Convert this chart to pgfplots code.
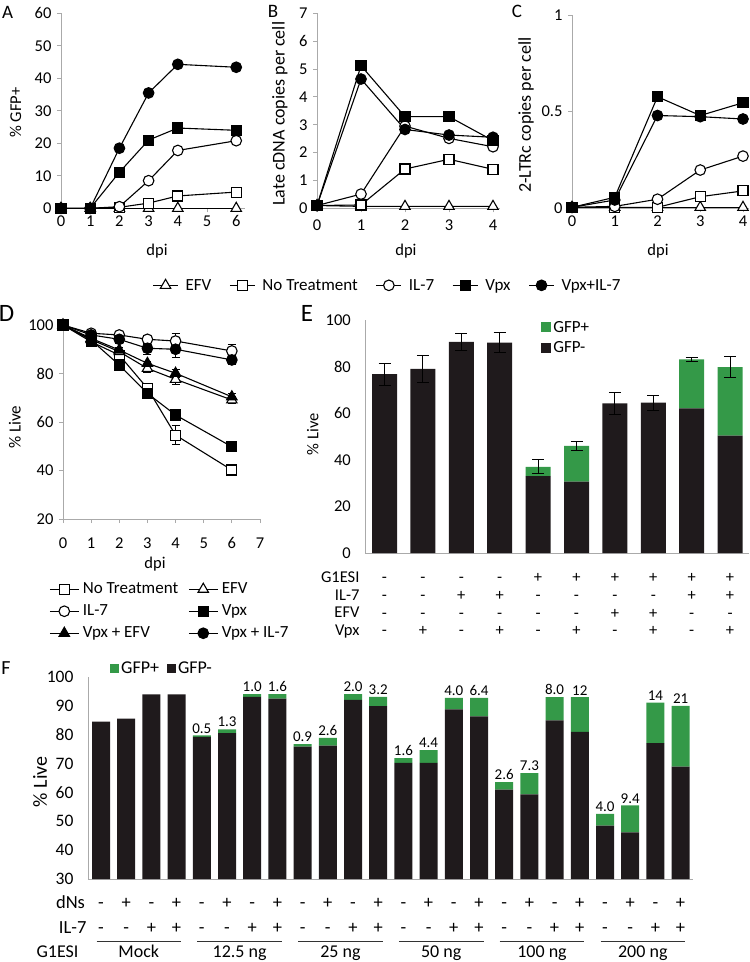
\documentclass[border=0pt]{standalone}
\usepackage{fontspec}
\setmainfont{Carlito}
\usepackage{pgfplots}
\pgfplotsset{compat=1.18}
\definecolor{gfpgreen}{RGB}{52,153,72}
\definecolor{barblack}{RGB}{31,26,28}
\definecolor{axgray}{RGB}{170,170,170}
\newcommand\fA{\fontsize{16.5}{19}\selectfont}
\newcommand\fL{\fontsize{17}{20}\selectfont}
\pgfplotsset{
 base/.style={
  scale only axis, enlargelimits=false, clip=false, anchor=south west,
  axis x line*=bottom, axis y line*=left,
  axis line style={draw=axgray, line width=0.8pt},
  every tick/.style={draw=axgray, line width=0.8pt},
  tick align=outside, major tick length=4pt,
  /pgf/number format/assume math mode=true,
  tick label style={font=\fA},
  label style={font=\fA},
  yticklabel style={xshift=-2pt},
 },
 ser/.style={black, line width=1.1pt, mark options={solid, line width=1pt, draw=black}},
 efv/.style={ser, mark=triangle*, mark size=6pt, mark options={fill=white}},
 nt/.style={ser, mark=square*, mark size=5pt, mark options={fill=white}},
 il7/.style={ser, mark=*, mark size=5.3pt, mark options={fill=white}},
 vpx/.style={ser, mark=square*, mark size=5pt, mark options={fill=black}},
 vpxil7/.style={ser, mark=*, mark size=5.3pt, mark options={fill=black}},
 vpxefv/.style={ser, mark=triangle*, mark size=6pt, mark options={fill=black}},
 ebar/.style={error bars/.cd, y dir=both, y explicit,
   error bar style={draw=black, line width=0.8pt},
   error mark options={rotate=90, mark size=4pt, draw=black, line width=0.8pt}},
 sqleg/.style={legend image code/.code={\fill[##1,draw=none] (0pt,-5pt) rectangle (10pt,5pt);}},
}
\begin{document}
\begin{tikzpicture}
\useasboundingbox (0,0) rectangle (750pt,-962pt);
% panel letters
\node[font=\fontsize{19}{22}\selectfont] at (7.5pt,-12.5pt) {A};
\node[font=\fontsize{19}{22}\selectfont] at (273pt,-11.5pt) {B};
\node[font=\fontsize{19}{22}\selectfont] at (517pt,-11pt) {C};
\node[font=\fontsize{25}{28}\selectfont] at (6.5pt,-313.5pt) {D};
\node[font=\fontsize{25}{28}\selectfont] at (307pt,-313.5pt) {E};
\node[font=\fontsize{20}{24}\selectfont] at (6pt,-668.5pt) {F};

% ---------- A ----------
\begin{axis}[base, at={(61pt,-208.3pt)}, width=184pt, height=195pt,
 xmin=0, xmax=6.3, ymin=0, ymax=60, xtick={0,...,6}, ytick={0,10,...,60},
 xlabel={dpi}, ylabel={\% GFP+},
 xlabel style={at={(axis description cs:0.522,-0.219)}, anchor=center},
 ylabel style={at={(axis description cs:-0.247,0.49)}, anchor=center},
 legend columns=5,
 legend style={at={(1.7745,-0.395)}, anchor=center, draw=none, fill=none, font=\fL,
   /tikz/every odd column/.append style={column sep=5pt},
   /tikz/every even column/.append style={column sep=16pt}},
 legend image code/.code={\draw[mark repeat=2,mark phase=2,#1] plot coordinates {(0pt,0pt) (12.5pt,0pt) (25pt,0pt)};}]
\addplot[efv] coordinates {(0,0)(1,0)(2,0)(3,0)(4,0)(6,0)};
\addplot[nt] coordinates {(0,0)(1,0)(2,0.3)(3,1.6)(4,3.8)(6,5.0)};
\addplot[il7] coordinates {(0,0)(1,0)(2,0.5)(3,8.5)(4,17.8)(6,20.8)};
\addplot[vpx] coordinates {(0,0)(1,0)(2,11.1)(3,21)(4,24.7)(6,24)};
\addplot[vpxil7] coordinates {(0,0)(1,0)(2,18.5)(3,35.5)(4,44.3)(6,43.4)};
\legend{EFV, No Treatment, IL-7, Vpx, Vpx+IL-7}
\end{axis}

% ---------- B ----------
\begin{axis}[base, at={(317pt,-208.3pt)}, width=182.6pt, height=195pt,
 xmin=0, xmax=4.15, ymin=0, ymax=7, xtick={0,...,4}, ytick={0,...,7},
 xticklabel style={yshift=-4pt},
 xlabel={dpi}, ylabel={Late cDNA copies per cell},
 ylabel style={font=\fontsize{18}{21}\selectfont, at={(axis description cs:-0.203,0.485)}, anchor=center},
 xlabel style={at={(axis description cs:0.487,-0.219)}, anchor=center}]
\addplot[efv] coordinates {(0,0.1)(1,0.07)(2,0.07)(3,0.07)(4,0.07)};
\addplot[nt] coordinates {(0,0.1)(1,0.12)(2,1.41)(3,1.76)(4,1.40)};
\addplot[il7] coordinates {(0,0.1)(1,0.51)(2,2.95)(3,2.51)(4,2.21)};
\addplot[vpx] coordinates {(0,0.1)(1,5.12)(2,3.29)(3,3.29)(4,2.43)};
\addplot[vpxil7] coordinates {(0,0.1)(1,4.64)(2,2.83)(3,2.63)(4,2.55)};
\end{axis}

% ---------- C ----------
\begin{axis}[base, at={(572pt,-208.3pt)}, width=177.4pt, height=193.3pt,
 xmin=0, xmax=4.15, ymin=0, ymax=1, xtick={0,...,4}, ytick={0,0.5,1},
 xlabel={dpi}, ylabel={2-LTRc copies per cell},
 ylabel style={font=\fontsize{18}{21}\selectfont, at={(axis description cs:-0.259,0.482)}, anchor=center},
 xlabel style={at={(axis description cs:0.485,-0.221)}, anchor=center}]
\addplot[efv] coordinates {(0,0.005)(1,0.005)(2,0.005)(3,0.005)(4,0.005)};
\addplot[nt] coordinates {(0,0.005)(1,0.005)(2,0.005)(3,0.06)(4,0.09)};
\addplot[il7] coordinates {(0,0.005)(1,0.01)(2,0.047)(3,0.198)(4,0.27)};
\addplot[vpx] coordinates {(0,0.005)(1,0.057)(2,0.577)(3,0.48)(4,0.546)};
\addplot[vpxil7] coordinates {(0,0.005)(1,0.043)(2,0.48)(3,0.474)(4,0.462)};
\end{axis}

% ---------- D ----------
\begin{axis}[base, at={(63pt,-519pt)}, width=197pt, height=194pt,
 xmin=0, xmax=7, ymin=20, ymax=100, xtick={0,...,7}, ytick={20,40,...,100},
 xticklabel style={yshift=-11pt},
 xlabel={dpi}, ylabel={\% Live},
 ylabel style={font=\fontsize{17}{20}\selectfont, at={(axis description cs:-0.244,0.474)}, anchor=center},
 xlabel style={at={(axis description cs:0.467,-0.235)}, anchor=center},
 legend columns=2,
 legend style={at={(-0.086,-0.294)}, anchor=north west, draw=none, fill=none, font=\fL,
   cells={anchor=west}, row sep=0pt,
   nodes={inner ysep=3.5pt, text height=11.5pt, text depth=3.5pt},
   /tikz/every odd column/.append style={column sep=1.5pt},
   /tikz/every even column/.append style={column sep=8pt}},
 legend image code/.code={\draw[mark repeat=2,mark phase=2,#1] plot coordinates {(0pt,0pt) (14.5pt,0pt) (29pt,0pt)};}]
\addplot[nt, ebar] coordinates {(0,100)+-(0,0) (1,93.1)+-(0,2) (2,87.6)+-(0,1.5) (3,73.9)+-(0,1.5) (4,54.6)+-(0,4) (6,40.2)+-(0,1.5)};
\addplot[efv, ebar] coordinates {(0,100)+-(0,0) (1,94)+-(0,1) (2,89)+-(0,1) (3,82.1)+-(0,1.5) (4,77.6)+-(0,2) (6,69.1)+-(0,1.5)};
\addplot[il7, ebar] coordinates {(0,100)+-(0,0) (1,96.6)+-(0,1) (2,95.9)+-(0,1) (3,94.1)+-(0,1.5) (4,93.4)+-(0,3.2) (6,89.3)+-(0,2.5)};
\addplot[vpx, ebar] coordinates {(0,100)+-(0,0) (1,93.8)+-(0,1) (2,83.5)+-(0,1) (3,71.8)+-(0,1) (4,62.9)+-(0,1.5) (6,49.8)+-(0,2)};
\addplot[vpxefv, ebar] coordinates {(0,100)+-(0,0) (1,94.5)+-(0,1) (2,89.7)+-(0,1) (3,84.2)+-(0,1) (4,80.1)+-(0,1.5) (6,70.4)+-(0,1.5)};
\addplot[vpxil7, ebar] coordinates {(0,100)+-(0,0) (1,95.9)+-(0,1) (2,94.1)+-(0,1.5) (3,90.4)+-(0,2.5) (4,90)+-(0,3.5) (6,85.6)+-(0,2)};
\legend{No Treatment, EFV, IL-7, Vpx, Vpx + EFV, Vpx + IL-7}
\end{axis}

% ---------- E ----------
\begin{axis}[base, at={(365.3pt,-553pt)}, width=384pt, height=233pt,
 xmin=-0.5, xmax=9.5, ymin=0, ymax=100, ytick={0,20,...,100},
 ybar stacked, bar width=25pt, clip=true,
 xtick={0,...,9}, tick align=inside, xtick style={draw=none}, ytick style={draw=none},
 yticklabel style={xshift=-9pt},
 xticklabel style={font=\fontsize{16.5}{17.7}\selectfont, align=center, inner sep=0pt, anchor=north, yshift=-17pt},
 xticklabels={
{\strut-\\\strut-\\\strut-\\\strut-},
{\strut-\\\strut-\\\strut-\\\strut+},
{\strut-\\\strut+\\\strut-\\\strut-},
{\strut-\\\strut+\\\strut-\\\strut+},
{\strut+\\\strut-\\\strut-\\\strut-},
{\strut+\\\strut-\\\strut-\\\strut+},
{\strut+\\\strut-\\\strut+\\\strut-},
{\strut+\\\strut-\\\strut+\\\strut+},
{\strut+\\\strut+\\\strut-\\\strut-},
{\strut+\\\strut+\\\strut-\\\strut+}},
 ylabel={\% Live},
 ylabel style={at={(axis description cs:-0.137,0.51)}, anchor=center},
 reverse legend,
 legend style={at={(0.458,1.005)}, anchor=north west, draw=none, fill=none, font=\fL,
   cells={anchor=west}, row sep=4pt, inner sep=0pt}]
\addplot[fill=barblack, draw=none, sqleg] coordinates {(0,76.8) (1,79) (2,90.6) (3,90.3) (4,33.0) (5,30.6) (6,64.2) (7,64.5) (8,62.1) (9,50.4)};
\addplot[fill=gfpgreen, draw=none, sqleg] coordinates {(0,0) (1,0) (2,0) (3,0) (4,4.0) (5,15.4) (6,0) (7,0) (8,21.0) (9,29.4)};
\legend{GFP-, GFP+}
\end{axis}
\begin{axis}[scale only axis, anchor=south west, at={(365.3pt,-553pt)}, width=384pt, height=233pt,
 xmin=-0.5, xmax=9.5, ymin=0, ymax=100, hide axis, clip=false]
\addplot[draw=none, mark=none, error bars/.cd, y dir=both, y explicit,
  error bar style={draw=black, line width=0.9pt},
  error mark options={rotate=90, mark size=6pt, draw=black, line width=0.9pt}]
 coordinates {(0,76.8)+-(0,4.7) (1,79)+-(0,6) (2,90.6)+-(0,3.7) (3,90.3)+-(0,4.2) (4,37.0)+-(0,3) (5,46.0)+-(0,1.8) (6,64.2)+-(0,4.7) (7,64.5)+-(0,3.2) (8,83.1)+-(0,0.9) (9,79.8)+-(0,4.6)};
\end{axis}
\node[anchor=base east, font=\fA] at (363pt,-582.5pt) {G1ESI};
\node[anchor=base east, font=\fA] at (363pt,-600pt) {IL-7};
\node[anchor=base east, font=\fA] at (363pt,-617.5pt) {EFV};
\node[anchor=base east, font=\fA] at (363pt,-635.5pt) {Vpx};

% ---------- F ----------
\begin{axis}[base, at={(87.9pt,-879pt)}, width=605.3pt, height=202.3pt,
 xmin=-0.52, xmax=23.5, ymin=30, ymax=100, ytick={30,40,...,100},
 ybar stacked, bar width=18pt, clip=true,
 xtick={0,...,23}, tick align=inside, xtick style={draw=none}, ytick style={draw=none},
 yticklabel style={font=\fontsize{17.5}{20}\selectfont, xshift=-9pt},
 xticklabel style={font=\fontsize{18.5}{25}\selectfont, align=center, inner sep=0pt, anchor=north, yshift=-11.5pt},
 xticklabels={
{\strut-\\\strut-},{\strut+\\\strut-},{\strut-\\\strut+},{\strut+\\\strut+},
{\strut-\\\strut-},{\strut+\\\strut-},{\strut-\\\strut+},{\strut+\\\strut+},
{\strut-\\\strut-},{\strut+\\\strut-},{\strut-\\\strut+},{\strut+\\\strut+},
{\strut-\\\strut-},{\strut+\\\strut-},{\strut-\\\strut+},{\strut+\\\strut+},
{\strut-\\\strut-},{\strut+\\\strut-},{\strut-\\\strut+},{\strut+\\\strut+},
{\strut-\\\strut-},{\strut+\\\strut-},{\strut-\\\strut+},{\strut+\\\strut+}},
 ylabel={\% Live},
 ylabel style={font=\fontsize{20}{23}\selectfont, at={(axis description cs:-0.079,0.48)}, anchor=center},
 reverse legend, legend columns=2,
 legend style={at={(0.0365,1.043)}, anchor=west, draw=none, fill=none, font=\fontsize{18}{21}\selectfont,
   inner sep=0pt, /tikz/every even column/.append style={column sep=6pt}}]
\addplot[fill=barblack, draw=none, legend image code/.code={\fill[barblack] (0pt,-4.5pt) rectangle (9pt,4.5pt);}] coordinates {
(0,84.5)(1,85.5)(2,93.9)(3,93.9)
(4,79.2)(5,80.5)(6,93.0)(7,92.4)
(8,75.8)(9,76.2)(10,92.0)(11,89.8)
(12,70.2)(13,70.2)(14,88.7)(15,86.3)
(16,60.9)(17,59.3)(18,84.9)(19,80.9)
(20,48.5)(21,46.1)(22,77.0)(23,68.9)};
\addplot[fill=gfpgreen, draw=none, legend image code/.code={\fill[gfpgreen] (0pt,-4.5pt) rectangle (9pt,4.5pt);}] coordinates {
(0,0)(1,0)(2,0)(3,0)
(4,0.5)(5,1.3)(6,1.0)(7,1.6)
(8,0.9)(9,2.6)(10,2.0)(11,3.2)
(12,1.6)(13,4.4)(14,4.0)(15,6.4)
(16,2.6)(17,7.3)(18,8.0)(19,12)
(20,4.0)(21,9.4)(22,14)(23,21)};
\legend{GFP-, GFP+}
\end{axis}
% labels of the GFP+ share, placed at the top of each stacked bar
\begin{axis}[scale only axis, anchor=south west, at={(87.9pt,-879pt)}, width=605.3pt, height=202.3pt,
 xmin=-0.52, xmax=23.5, ymin=30, ymax=100, hide axis, clip=false]
\addplot[draw=none, mark=none, nodes near coords, point meta=explicit symbolic,
  every node near coord/.style={font=\fontsize{15}{17}\selectfont, text=black, anchor=south, inner sep=2pt}]
 table[meta=lab] {
x y lab
4 79.7 0.5
5 81.8 1.3
6 94.0 1.0
7 94.0 1.6
8 76.7 0.9
9 78.8 2.6
10 94.0 2.0
11 93.0 3.2
12 71.8 1.6
13 74.6 4.4
14 92.7 4.0
15 92.7 6.4
16 63.5 2.6
17 66.6 7.3
18 92.9 8.0
19 92.9 12
20 52.5 4.0
21 55.5 9.4
22 91.0 14
23 89.9 21
};
\end{axis}
\node[anchor=base east, font=\fontsize{18.5}{22}\selectfont] at (88.5pt,-908pt) {dNs};
\node[anchor=base east, font=\fontsize{18.5}{22}\selectfont] at (90pt,-933pt) {IL-7};
\node[anchor=base east, font=\fontsize{18}{22}\selectfont] at (82pt,-957pt) {G1ESI};
\foreach \k/\lab in {0/Mock, 1/12.5 ng, 2/25 ng, 3/50 ng, 4/100 ng, 5/200 ng}{
  \pgfmathsetmacro\xa{101+25.2*4*\k-4.5}
  \pgfmathsetmacro\xb{101+25.2*(4*\k+3)+4.5}
  \pgfmathsetmacro\xc{101+25.2*(4*\k+1.5)}
  \draw[line width=0.9pt, black!80] (\xa pt,-941.7pt) -- (\xb pt,-941.7pt);
  \node[anchor=base, font=\fontsize{18}{22}\selectfont] at (\xc pt,-957pt) {\lab};
}
\end{tikzpicture}
\end{document}
